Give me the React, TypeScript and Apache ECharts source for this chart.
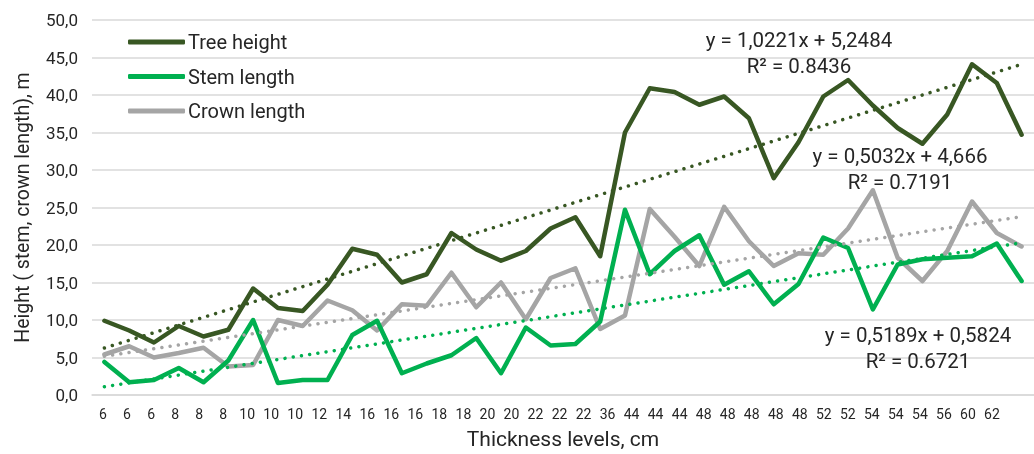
import React, { useEffect, useRef } from "react";
import * as echarts from "echarts";

const categories = ["6","6","6","8","8","8","10","10","10","12","14","16","16","16","18","18","20","20","22","22","22","36","44","44","44","48","48","48","48","48","52","52","54","54","54","56","60","62"];

const treeHeight = [9.9,8.6,7.0,9.2,7.8,8.7,14.2,11.6,11.2,14.7,19.5,18.7,15.0,16.1,21.6,19.4,17.9,19.2,22.2,23.7,18.5,35.0,40.9,40.4,38.7,39.8,36.9,28.9,33.7,39.8,42.0,38.6,35.6,33.5,37.4,44.1,41.6,34.7];
const stemLength = [4.4,1.7,2.0,3.6,1.7,4.6,10.0,1.6,2.0,2.0,8.0,9.9,2.9,4.2,5.3,7.6,2.9,9.0,6.6,6.8,9.8,24.7,16.1,19.2,21.3,14.7,16.5,12.1,14.8,21.0,19.6,11.4,17.4,18.1,18.3,18.5,20.2,15.2];
const crownLength = [5.4,6.5,5.0,5.6,6.3,3.8,4.0,10.0,9.2,12.6,11.3,8.6,12.1,11.9,16.3,11.7,15.0,10.1,15.6,16.9,8.8,10.6,24.8,21.1,17.2,25.1,20.5,17.2,18.9,18.7,22.2,27.3,18.3,15.2,19.2,25.8,21.6,19.8];

const seriesNames = ["Tree height", "Stem length", "Crown length"];
const seriesColors = ["#385723", "#00b050", "#a5a5a5"];
const trendSlopes = [1.0221, 0.5189, 0.5032];
const trendIntercepts = [5.2484, 0.5824, 4.666];
const trendEquations = ["y = 1,0221x + 5,2484\nR² = 0.8436", "y = 0,5189x + 0,5824\nR² = 0.6721", "y = 0,5032x + 4,666\nR² = 0.7191"];
const yTicks = ["0,0","5,0","10,0","15,0","20,0","25,0","30,0","35,0","40,0","45,0","50,0"];

const FONT = "Roboto";

export default function App() {
  const ref = useRef<HTMLDivElement>(null);
  useEffect(() => {
    const chart = echarts.init(ref.current!, null, { renderer: "svg" });
    const values = [treeHeight, stemLength, crownLength];
    const n = categories.length;
    const trendData = trendSlopes.map((a, k) =>
      categories.map((_, i) => (i === 0 || i === n - 1 ? +(a * (i + 1) + trendIntercepts[k]).toFixed(3) : null))
    );
    const eqPos = [
      [799, 53],
      [918, 348],
      [900, 169],
    ];
    chart.setOption({
      animation: false,
      textStyle: { fontFamily: FONT },
      grid: [
        { left: 92, right: 0, top: 20, bottom: 55.5, containLabel: false },
        { left: 91, width: 913, top: 20, bottom: 55.5, containLabel: false },
      ],
      legend: {
        orient: "vertical",
        left: 128,
        top: 31,
        padding: 0,
        itemWidth: 57,
        itemHeight: 5,
        itemGap: 12.5,
        icon: "roundRect",
        data: seriesNames,
        textStyle: { fontFamily: FONT, fontSize: 20, color: "#262626", lineHeight: 22, padding: [0, 0, 0, -2] },
      },
      xAxis: [
        {
          type: "category",
          gridIndex: 0,
          data: categories,
          boundaryGap: true,
          axisLine: { show: true, lineStyle: { color: "#d9d9d9", width: 1.5 } },
          axisTick: { show: false },
          axisLabel: { show: false },
          name: "Thickness levels, cm",
          nameLocation: "middle",
          nameGap: 33,
          nameTextStyle: { fontFamily: FONT, fontSize: 21, color: "#262626" },
        },
        {
          type: "category",
          gridIndex: 1,
          data: categories,
          boundaryGap: true,
          axisLine: { show: false },
          axisTick: { show: false },
          axisLabel: { show: true, interval: 0, fontFamily: FONT, fontSize: 14, color: "#262626", margin: 8 },
        },
      ],
      yAxis: [
        {
          type: "value",
          gridIndex: 0,
          min: 0,
          max: 50,
          interval: 5,
          axisLine: { show: false },
          axisTick: { show: false },
          splitLine: { lineStyle: { color: "#d9d9d9", width: 1.5 } },
          axisLabel: {
            fontFamily: FONT,
            fontSize: 17,
            color: "#262626",
            margin: 14,
            formatter: (v: number) => yTicks[Math.round(v / 5)],
          },
          name: "Height ( stem, crown length), m",
          nameLocation: "middle",
          nameRotate: 90,
          nameGap: 60,
          nameTextStyle: { fontFamily: FONT, fontSize: 19.5, color: "#262626" },
        },
        { type: "value", gridIndex: 1, min: 0, max: 50, show: false },
      ],
      series: [
        ...seriesNames.map((name, k) => ({
          type: "line",
          name,
          xAxisIndex: 0,
          yAxisIndex: 0,
          data: values[k],
          showSymbol: false,
          symbol: "none",
          color: seriesColors[k],
          lineStyle: { color: seriesColors[k], width: 4.5, cap: "round", join: "round" },
          z: 3 - k,
        })),
        ...trendData.map((d, k) => ({
          type: "line",
          name: seriesNames[k] + " trend",
          xAxisIndex: 0,
          yAxisIndex: 0,
          data: d,
          connectNulls: true,
          showSymbol: false,
          symbol: "none",
          lineStyle: { color: seriesColors[k], width: 3.5, type: [0.01, 8.3], cap: "round" },
          z: 5,
        })),
      ],
      graphic: trendEquations.map((t, k) => ({
        type: "text",
        x: eqPos[k][0],
        y: eqPos[k][1],
        z: 10,
        style: {
          text: t,
          fontFamily: FONT,
          fontSize: 20.5,
          lineHeight: 26,
          fill: "#262626",
          align: "center",
          verticalAlign: "middle",
        },
      })),
    });
    return () => chart.dispose();
  }, []);
  return <div ref={ref} style={{ position: "fixed", left: 0, top: 0, width: 1034, height: 454 }} />;
}
